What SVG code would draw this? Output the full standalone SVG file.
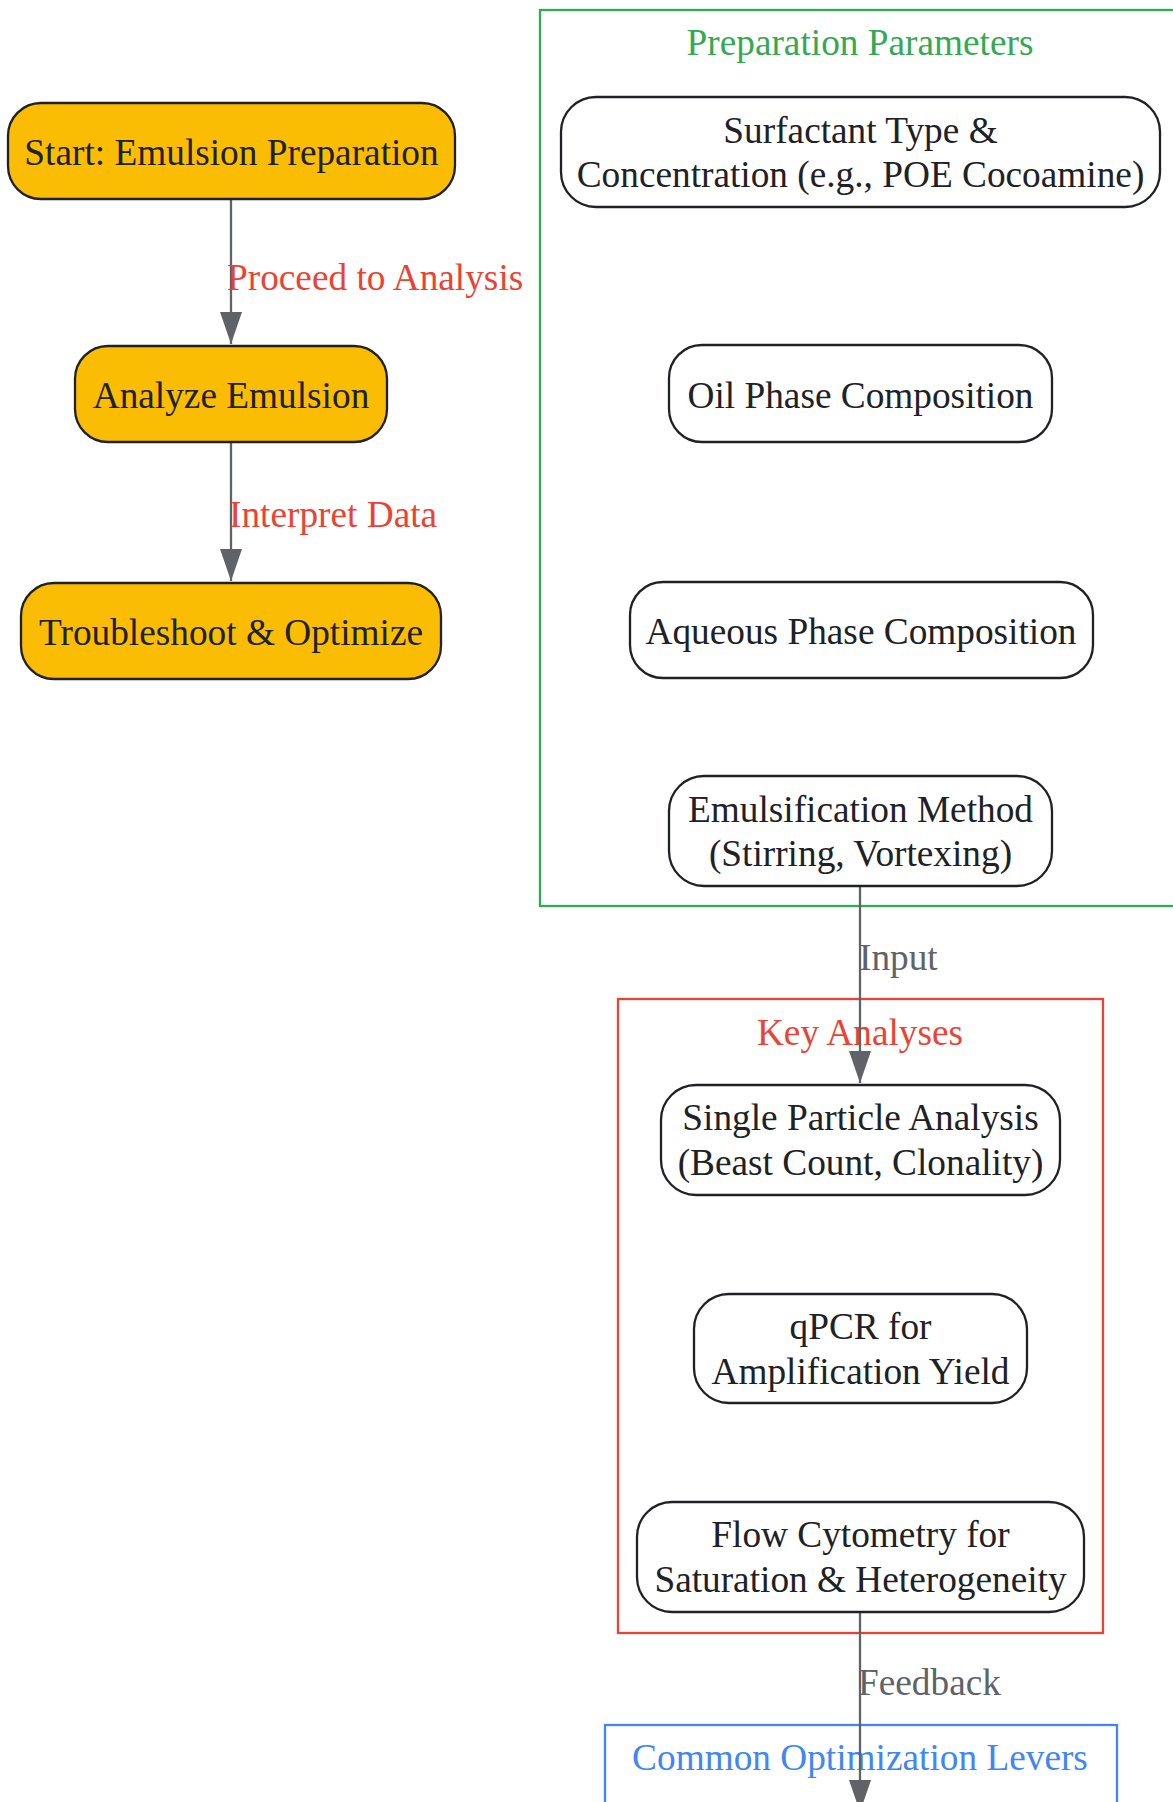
<svg xmlns="http://www.w3.org/2000/svg" width="1173" height="1802" viewBox="0 0 1173 1802">
<style>
text{font-family:"Liberation Serif","Times New Roman",serif;font-size:37.3px}
.nt{fill:#202124;text-anchor:middle}
.node rect{stroke:#202124;stroke-width:2.3}
.hi rect{fill:#FBBC04}
.pl rect{fill:#ffffff}
.cl{fill:none;stroke-width:2.3}
.ct{text-anchor:middle}
.edge{stroke:#5F6368;stroke-width:2.3;fill:none}
.el{fill:#5F6368}
.er{fill:#EA4335}
</style>
<defs>
<marker id="ah" viewBox="0 0 32 22" refX="32" refY="11" markerWidth="32" markerHeight="22" markerUnits="userSpaceOnUse" orient="auto">
<path d="M0,0 L32,11 L0,22 z" fill="#5F6368"/>
</marker>
</defs>
<rect width="1173" height="1802" fill="#ffffff"/>
<g id="clusters">
<g id="cluster-prep"><rect class="cl" x="540" y="10" width="660" height="896" stroke="#34A853"/><text class="ct" x="860" y="55" fill="#34A853">Preparation Parameters</text></g>
<g id="cluster-analyses"><rect class="cl" x="618" y="999" width="485" height="634" stroke="#EA4335"/><text class="ct" x="860" y="1045" fill="#EA4335">Key Analyses</text></g>
<g id="cluster-levers"><rect class="cl" x="605" y="1725" width="512" height="110" stroke="#4285F4"/><text class="ct" x="860" y="1770" fill="#4285F4">Common Optimization Levers</text></g>
</g>
<g id="connectors">
<line class="edge" x1="231" y1="199" x2="231" y2="344" marker-end="url(#ah)"/>
<line class="edge" x1="231" y1="442" x2="231" y2="581" marker-end="url(#ah)"/>
<line class="edge" x1="860" y1="886" x2="860" y2="1083" marker-end="url(#ah)"/>
<line class="edge" x1="860" y1="1612" x2="860" y2="1812" marker-end="url(#ah)"/>
<text class="er" x="227" y="290">Proceed to Analysis</text>
<text class="er" x="229" y="527">Interpret Data</text>
<text class="el" x="859" y="970">Input</text>
<text class="el" x="858" y="1695">Feedback</text>
</g>
<g id="start" class="node hi"><rect x="8" y="103" width="447" height="96" rx="33"/><text class="nt" x="231.5" y="165">Start: Emulsion Preparation</text></g>
<g id="analyze" class="node hi"><rect x="75" y="346" width="312" height="96" rx="33"/><text class="nt" x="231" y="408">Analyze Emulsion</text></g>
<g id="troubleshoot" class="node hi"><rect x="21" y="583" width="420" height="96" rx="33"/><text class="nt" x="231" y="645">Troubleshoot &amp; Optimize</text></g>
<g id="surfactant" class="node pl"><rect x="561" y="97" width="599" height="110" rx="35"/><text class="nt" x="860.5" y="143">Surfactant Type &amp;</text><text class="nt" x="860.5" y="187">Concentration (e.g., POE Cocoamine)</text></g>
<g id="oil" class="node pl"><rect x="669" y="345" width="383" height="97" rx="33"/><text class="nt" x="860.5" y="408">Oil Phase Composition</text></g>
<g id="aqueous" class="node pl"><rect x="630" y="582" width="463" height="96" rx="33"/><text class="nt" x="861" y="644">Aqueous Phase Composition</text></g>
<g id="emulsification" class="node pl"><rect x="669" y="776" width="383" height="110" rx="35"/><text class="nt" x="860.5" y="822">Emulsification Method</text><text class="nt" x="860.5" y="866">(Stirring, Vortexing)</text></g>
<g id="single" class="node pl"><rect x="661" y="1085" width="399" height="110" rx="35"/><text class="nt" x="860.5" y="1130">Single Particle Analysis</text><text class="nt" x="860.5" y="1175">(Beast Count, Clonality)</text></g>
<g id="qpcr" class="node pl"><rect x="694" y="1294" width="333" height="109" rx="35"/><text class="nt" x="860.5" y="1339">qPCR for</text><text class="nt" x="860.5" y="1384">Amplification Yield</text></g>
<g id="flow" class="node pl"><rect x="637" y="1502" width="447" height="110" rx="35"/><text class="nt" x="860.5" y="1547">Flow Cytometry for</text><text class="nt" x="860.5" y="1592">Saturation &amp; Heterogeneity</text></g>
</svg>
